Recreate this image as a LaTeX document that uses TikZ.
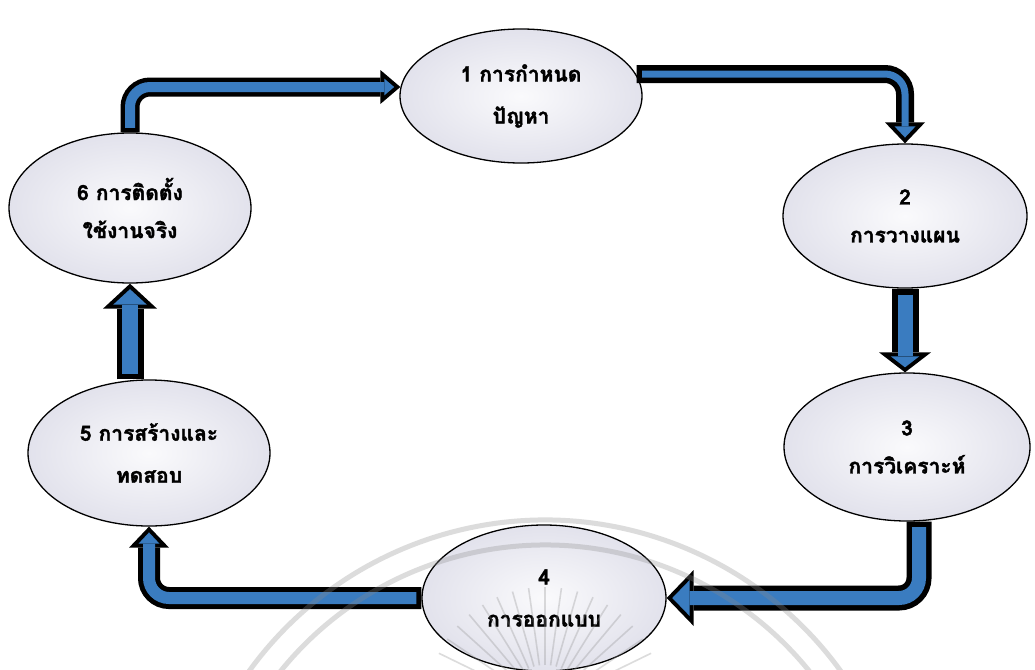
\documentclass[tikz,border=0pt]{standalone}
\usepackage{fontspec}
\newfontfamily\thaifont[Script=Thai, BoldFeatures={FakeBold=1.6}]{Loma}
\usetikzlibrary{shapes.geometric,arrows.meta,calc}

\definecolor{bandblue}{RGB}{58,124,192}
\definecolor{ovalrim}{RGB}{226,226,236}
\definecolor{ovalcore}{RGB}{250,250,252}
\definecolor{markgray}{RGB}{140,140,140}

% Outlined band arrow:
% #1 outer width, #2 inner width, #3 tail border, #4 tip length, #5 tip width,
% #6 inner tip set-back, #7 inner tip length, #8 inner tip width, #9 path
\newcommand\flowarrow[9]{%
  \draw[bandrim, line width=#1,
        -{Triangle[length=#4, width=#5, line width=0pt]}] #9;
  \draw[bandcore, line width=#2, shorten <=#3, shorten >=#6,
        -{Triangle[length=#7, width=#8, line width=0pt]}] #9;
}

\begin{document}
\begin{tikzpicture}[x=1pt, y=-1pt,
  stage/.style={ellipse, draw=black, line width=1.3pt, inner sep=0pt,
    minimum width=242pt, minimum height=146pt,
    inner color=ovalcore, outer color=ovalrim,
    font=\thaifont\bfseries\fontsize{21}{42}\selectfont, align=center},
  bandrim/.style={draw=black, rounded corners=20pt},
  bandcore/.style={draw=bandblue, rounded corners=20pt},
]
\useasboundingbox (0,0) rectangle (1035,669);
\fill[white] (0,0) rectangle (1035,669);

% the six stages
\node[stage, minimum height=134pt] (e1) at (521,96)  {1 การกำหนด\\ปัญหา};
\node[stage, minimum width=244pt, minimum height=144pt] (e2) at (905,216) {2\\[-4pt]การวางแผน};
\node[stage, minimum width=246pt, minimum height=148pt] (e3) at (907,447) {3\\[-4pt]การวิเคราะห์};
\node[stage, minimum width=244pt] (e4) at (544,598) {4\\การออกแบบ};
\node[stage] (e5) at (149,453) {5 การสร้างและ\\ทดสอบ};
\node[stage, minimum height=150pt] (e6) at (130,208) {6 การติดตั้ง\\[-4pt]ใช้งานจริง};

% connectors between the stages
\flowarrow{18pt}{7pt}{5.5pt}{21pt}{40pt}{5.8pt}{11.2pt}{21pt}
  {($(e1.east)+(-6,-22)$) -| (e2.north)}
\flowarrow{27pt}{15pt}{6pt}{20pt}{52pt}{5pt}{11pt}{28.5pt}
  {(e2.south) -- (e2.south |- e3.north)}
\flowarrow{25pt}{14pt}{5.5pt}{27pt}{56pt}{5.6pt}{17.4pt}{36pt}
  {($(e3.south)+(12,0)$) |- (e4.east)}
\flowarrow{22pt}{12pt}{5pt}{21pt}{40pt}{5.8pt}{11.2pt}{21pt}
  {(e4.west) -| (e5.south)}
\flowarrow{27pt}{16pt}{5.5pt}{25pt}{54pt}{5.5pt}{15.5pt}{33.6pt}
  {(e6.south |- e5.north) -- (e6.south)}
\flowarrow{19pt}{10pt}{4.5pt}{20pt}{34pt}{6.2pt}{9.8pt}{16.7pt}
  {(e6.north) |- ($(e1.west)+(1,-9)$)}

% faint seal printed over the lower middle
\begin{scope}
  \clip (0,0) rectangle (1035,669);
  \begin{scope}[markgray, opacity=0.3, line width=5pt]
    \coordinate (sealc) at (545,885);
    \draw ($(sealc)+(205:365)$) arc[start angle=205, end angle=335, radius=365];
    \draw ($(sealc)+(210:340)$) arc[start angle=210, end angle=330, radius=340];
  \end{scope}
  \begin{scope}[markgray, opacity=0.3, line width=1.6pt]
    \coordinate (rayc) at (545,705);
    \foreach \a in {206,214,...,334} {
      \draw ($(rayc)+(\a:40)$) -- ($(rayc)+(\a:118)$);
    }
  \end{scope}
\end{scope}
\end{tikzpicture}
\end{document}
